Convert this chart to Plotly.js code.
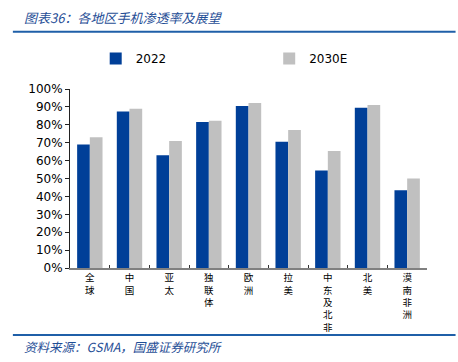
<!DOCTYPE html>
<html><head><meta charset="utf-8">
<script src="https://cdn.plot.ly/plotly-3.0.1.min.js"></script>
<style>body{margin:0;padding:0;background:#fff}#c{width:458px;height:362px}</style>
</head><body><div id="c"></div>
<script>
const categories = ["全球","中国","亚太","独联体","欧洲","拉美","中东及北非","北美","漠南非洲"];
const values2022 = [0.69, 0.875, 0.63, 0.815, 0.905, 0.705, 0.545, 0.895, 0.435];
const values2030E = [0.73, 0.89, 0.71, 0.822, 0.922, 0.771, 0.654, 0.911, 0.50];
const seriesNames = ["2022","2030E"];
const yTickVals = [0,0.1,0.2,0.3,0.4,0.5,0.6,0.7,0.8,0.9,1.0];
const yTickText = ["0%","10%","20%","30%","40%","50%","60%","70%","80%","90%","100%"];

const vertLabels = categories.map(c => c.split("").join("<br>"));
const traces = [
  {type:"bar", name:seriesNames[0], x:vertLabels, y:values2022, marker:{color:"#003f98"}, legend:"legend"},
  {type:"bar", name:seriesNames[1], x:vertLabels, y:values2030E, marker:{color:"#c0c0c0"}, legend:"legend2"}
];
const cjk = "'Noto Sans CJK SC', sans-serif";
const legFont = {family:"DejaVu Sans, sans-serif", size:12, color:"#000"};
const layout = {
  width:458, height:362,
  margin:{l:70, r:31, t:89, b:94},
  paper_bgcolor:"#fff", plot_bgcolor:"#fff",
  barmode:"group", bargap:0.36, bargroupgap:0,
  showlegend:true,
  legend:{x:0.072, xanchor:"left", y:1.17, yanchor:"middle", font:legFont, bgcolor:"rgba(0,0,0,0)", itemwidth:30},
  legend2:{x:0.558, xanchor:"left", y:1.17, yanchor:"middle", font:legFont, bgcolor:"rgba(0,0,0,0)", itemwidth:30},
  xaxis:{type:"category", showline:true, linecolor:"#808080", linewidth:2,
    ticks:"inside", tickson:"boundaries", ticklen:3, tickcolor:"#333",
    tickfont:{family:cjk, size:9.5, color:"#000"}, tickangle:0, fixedrange:true},
  yaxis:{range:[0,1.0], tickvals:yTickVals, ticktext:yTickText, showline:true, linecolor:"#222", linewidth:1,
    ticks:"outside", ticklen:4, tickcolor:"#222", showgrid:false, zeroline:false,
    tickfont:{family:"DejaVu Sans, sans-serif", size:12, color:"#000"}},
  annotations:[
    {xref:"paper", yref:"paper", x:-0.135, y:1.40, xanchor:"left", yanchor:"middle", showarrow:false,
     text:"<i>图表36：各地区手机渗透率及展望</i>", font:{family:cjk, size:13, color:"#1f4e96"}},
    {xref:"paper", yref:"paper", x:-0.135, y:-0.437, xanchor:"left", yanchor:"middle", showarrow:false,
     text:"<i>资料来源：GSMA，国盛证券研究所</i>", font:{family:cjk, size:12.5, color:"#1f4e96"}}
  ],
  shapes:[
    {type:"line", xref:"paper", yref:"paper", x0:-0.16, x1:1.08, y0:1.32, y1:1.32, line:{color:"#1f5fa8", width:2}},
    {type:"line", xref:"paper", yref:"paper", x0:-0.16, x1:1.08, y0:-0.374, y1:-0.374, line:{color:"#1f5fa8", width:2}}
  ]
};
Plotly.newPlot("c", traces, layout, {displayModeBar:false, staticPlot:true});
</script></body></html>
